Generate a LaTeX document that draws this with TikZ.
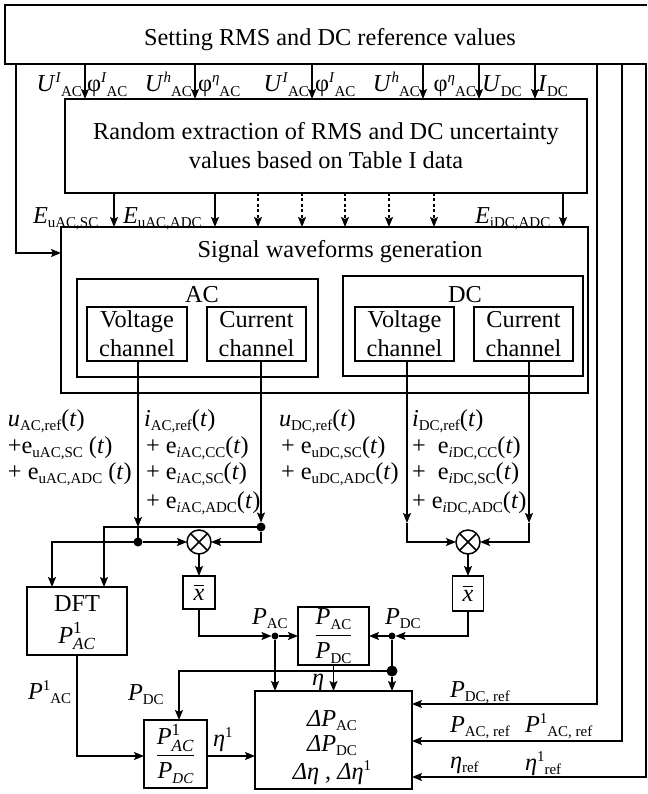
\documentclass[tikz,border=0pt]{standalone}
\usepackage{amsmath}
\usepackage{fontspec}
\setmainfont{Liberation Serif}
\usetikzlibrary{arrows.meta}
\newcommand\mfs{\fontsize{24.3}{29}\selectfont}
\newcommand\sbs[1]{\raisebox{-4.5pt}{\fontsize{15}{16}\selectfont #1}}
\newcommand\sps[1]{\raisebox{9pt}{\fontsize{15}{16}\selectfont #1}}
\newcommand\stk[2]{\ensuremath{{}^{\text{#1}}_{\text{#2}}}}
\begin{document}
\begin{tikzpicture}[x=1pt,y=-1pt,
  every node/.style={inner sep=0pt,outer sep=0pt,font=\mfs},
  lin/.style={line width=1.5pt},
  box/.style={draw,line width=1.5pt,rectangle},
  arr/.style={lin,-{Stealth[length=10pt,width=8pt,inset=2pt]}},
  dsh/.style={arr,dash pattern=on 3pt off 2.5pt},
  dotS/.style={circle,fill,minimum size=7pt},
  dotM/.style={circle,fill,minimum size=9pt},
  dotL/.style={circle,fill,minimum size=11pt},
  lab/.style={anchor=base west},
  labr/.style={anchor=base east},
  labc/.style={anchor=base},
  twol/.style={align=center}]

\useasboundingbox (0,0) rectangle (647,794);
\fill[white] (0,0) rectangle (647,794);

% top box
\node[minimum width=642pt,minimum height=59pt] (topb) at (326,34.5) {};
\draw[lin] (topb.north east) -| (topb.south west) -- (topb.south east);
\node[labc] (toptxt) at (330,46) {Setting RMS and DC reference values};

% random box
\node[box,minimum width=522pt,minimum height=94pt,twol] (rand) at (326,146) {Random extraction of RMS and DC uncertainty\\values based on Table I data};

\foreach \x in {85,195,312,423,479,535} \draw[arr] (topb.south -| \x,0) -- (rand.north -| \x,0);

\node[labr] (l1) at (82,92) {\textit{U}\sps{\textit{I}}\sbs{AC}};
\node[lab] (l2) at (87,92) {φ\sps{\textit{I}}\sbs{AC}};
\node[labr] (l3) at (192,92) {\textit{U}\sps{\textit{h}}\sbs{AC}};
\node[lab] (l4) at (198,92) {φ\sps{\textit{η}}\sbs{AC}};
\node[labr] (l5) at (309,92) {\textit{U}\sps{\textit{I}}\sbs{AC}};
\node[lab] (l6) at (315,92) {φ\sps{\textit{I}}\sbs{AC}};
\node[labr] (l7) at (420,92) {\textit{U}\sps{\textit{h}}\sbs{AC}};
\node[labr] (l8) at (476,92) {φ\sps{\textit{η}}\sbs{AC}};
\node[lab] (l9) at (482,92) {\textit{U}\sbs{DC}};
\node[lab] (l10) at (538,92) {\textit{I}\sbs{DC}};

% signal box
\node[box,minimum width=527pt,minimum height=166pt] (sig) at (324.5,310) {};
\node[labc] (sigt) at (340,257) {Signal waveforms generation};
\foreach \x in {114,215,563} \draw[arr] (rand.south -| \x,0) -- (sig.north -| \x,0);
\foreach \x in {258,302,345,389,434} \draw[dsh] (rand.south -| \x,0) -- (sig.north -| \x,0);
\node[lab] (e1) at (33,223) {\textit{E}\sbs{uAC,SC}};
\node[lab] (e2) at (123,223) {\textit{E}\sbs{uAC,ADC}};
\node[lab] (e3) at (475,223) {\textit{E}\sbs{iDC,ADC}};

\draw[arr] (topb.south -| 16,0) |- (sig.west |- 0,253);

% AC / DC
\node[box,minimum width=241pt,minimum height=98pt] (acb) at (197.5,328) {};
\node[labc] (acl) at (202,302) {AC};
\node[box,minimum width=100pt,minimum height=54pt,twol] (acv) at (137,334) {Voltage\\channel};
\node[box,minimum width=99pt,minimum height=54pt,twol] (aci) at (256.5,334) {Current\\channel};
\node[box,minimum width=240pt,minimum height=100pt] (dcb) at (463,326) {};
\node[labc] (dcl) at (465,302) {DC};
\node[box,minimum width=99pt,minimum height=54pt,twol] (dcv) at (404.5,334) {Voltage\\channel};
\node[box,minimum width=99pt,minimum height=54pt,twol] (dci) at (523.5,334) {Current\\channel};

% signal labels
\node[lab] (s11) at (8,426) {\textit{u}\sbs{AC,ref}(\textit{t})};
\node[lab] (s12) at (8,453) {+e\sbs{uAC,SC} (\textit{t})};
\node[lab] (s13) at (8,479) {+ e\sbs{uAC,ADC} (\textit{t})};
\node[lab] (s21) at (144,426) {\textit{i}\sbs{AC,ref}(\textit{t})};
\node[lab] (s22) at (146,453) {+ e\sbs{\textit{i}AC,CC}(\textit{t})};
\node[lab] (s23) at (146,479) {+ e\sbs{\textit{i}AC,SC}(\textit{t})};
\node[lab] (s24) at (146,508) {+ e\sbs{\textit{i}AC,ADC}(\textit{t})};
\node[lab] (s31) at (279,426) {\textit{u}\sbs{DC,ref}(\textit{t})};
\node[lab] (s32) at (281,453) {+ e\sbs{uDC,SC}(\textit{t})};
\node[lab] (s33) at (281,479) {+ e\sbs{uDC,ADC}(\textit{t})};
\node[lab] (s41) at (412,426) {\textit{i}\sbs{DC,ref}(\textit{t})};
\node[lab] (s42) at (412,453) {+\ \ e\sbs{\textit{i}DC,CC}(\textit{t})};
\node[lab] (s43) at (412,479) {+\ \ e\sbs{\textit{i}DC,SC}(\textit{t})};
\node[lab] (s44) at (412,508) {+ e\sbs{\textit{i}DC,ADC}(\textit{t})};

% multipliers, DFT, averages
\node[box,circle,minimum size=24pt] (ma) at (199,542) {};
\draw[lin] (ma.north west) -- (ma.south east) (ma.north east) -- (ma.south west);
\node[box,circle,minimum size=24pt] (md) at (468,542) {};
\draw[lin] (md.north west) -- (md.south east) (md.north east) -- (md.south west);
\node[box,minimum width=100pt,minimum height=68pt] (dft) at (77,621) {};
\node[labc] (dftt) at (77,611) {DFT};
\node[labc] (dftp) at (77,643) {\textit{P}\stk{1}{\textit{AC}}};
\node[box,minimum width=32pt,minimum height=33pt] (xa) at (199,592.5) {$\overline{\text{\textit{x}}}$};
\node[box,minimum width=31pt,minimum height=35pt] (xd) at (468,593.5) {$\overline{\text{\textit{x}}}$};

\node[dotM] (di) at (261,527) {};
\node[dotM] (dv) at (138,542) {};
\coordinate (vj) at (138,527);
\draw[arr] (acv.south -| vj) -- (vj);
\draw[lin] (vj) -- (dv);
\draw[arr] (dv) -- (ma);
\draw[arr] (dv) -| (dft.north -| 52,0);
\draw[arr] (aci.south -| di) -- (di);
\draw[arr] (di) -| (dft.north -| 104,0);
\draw[arr] (di) |- (ma);
\draw[arr] (ma) -- (xa);

\coordinate (dvj) at (407,523);
\coordinate (dij) at (529,523);
\draw[arr] (dcv.south -| dvj) -- (dvj);
\draw[arr] (dvj) |- (md);
\draw[arr] (dci.south -| dij) -- (dij);
\draw[arr] (dij) |- (md);
\draw[arr] (md) -- (xd);

% ratio boxes and result box
\node[box,minimum width=71pt,minimum height=58pt] (ra) at (333.5,636) {$\dfrac{\text{\textit{P}\sbs{AC}}}{\text{\textit{P}\sbs{DC}}}$};
\node[box,minimum width=63pt,minimum height=68pt] (rb) at (175.5,754) {$\dfrac{\text{\textit{P}\stk{1}{\textit{AC}}}}{\text{\textit{P}\sbs{\textit{DC}}}}$};
\node[box,minimum width=157pt,minimum height=98pt] (bb) at (333.5,740) {};
\node[labc] (bb1) at (332,726) {\textit{ΔP}\sbs{AC}};
\node[labc] (bb2) at (332,751) {\textit{ΔP}\sbs{DC}};
\node[labc] (bb3) at (332,779) {\textit{Δη} , \textit{Δη}\sps{1}};

\node[dotS] (da) at (275,636) {};
\node[dotS] (dd) at (392,636) {};
\node[dotL] (dbig) at (392,671) {};
\draw[arr] (xa.south) |- (da);
\draw[arr] (da) -- (ra.west |- da);
\draw[arr] (da) -- (bb.north -| da);
\draw[arr] (xd.south) |- (dd);
\draw[arr] (dd) -- (ra.east |- dd);
\draw[lin] (dd) -- (dbig);
\draw[arr] (dbig) -- (bb.north -| dbig);
\draw[arr] (dbig) -| (rb.north -| 179,0);
\draw[arr] (ra.south) -- (ra.south |- bb.north);
\draw[arr] (dft.south) |- (rb.west |- 0,756);
\draw[arr] (rb.east |- 0,756) -- (bb.west |- 0,756);

\node[lab] (pacl) at (252,624) {\textit{P}\sbs{AC}};
\node[lab] (pdcl) at (385,624) {\textit{P}\sbs{DC}};
\node[lab] (etal) at (312,685) {\textit{η}};
\node[lab] (eta1) at (213,746) {\textit{η}\sps{1}};
\node[lab] (p1ac) at (28,699) {\textit{P}\sps{1}\sbs{AC}};
\node[lab] (pdc2) at (128,700) {\textit{P}\sbs{DC}};

% reference lines
\draw[arr] (topb.south -| 597,0) |- (bb.east |- 0,704);
\draw[arr] (topb.south -| 622,0) |- (bb.east |- 0,741);
\draw[arr] (topb.south -| 646,0) |- (bb.east |- 0,777);
\node[lab] (r1) at (450,697) {\textit{P}\sbs{DC, ref}};
\node[lab] (r2) at (450,732) {\textit{P}\sbs{AC, ref}};
\node[lab] (r3) at (525,732) {\textit{P}\sps{1}\sbs{AC, ref}};
\node[lab] (r4) at (450,768) {\textit{η}\sbs{ref}};
\node[lab] (r5) at (525,770) {\textit{η}\sps{1}\sbs{ref}};
\end{tikzpicture}
\end{document}
